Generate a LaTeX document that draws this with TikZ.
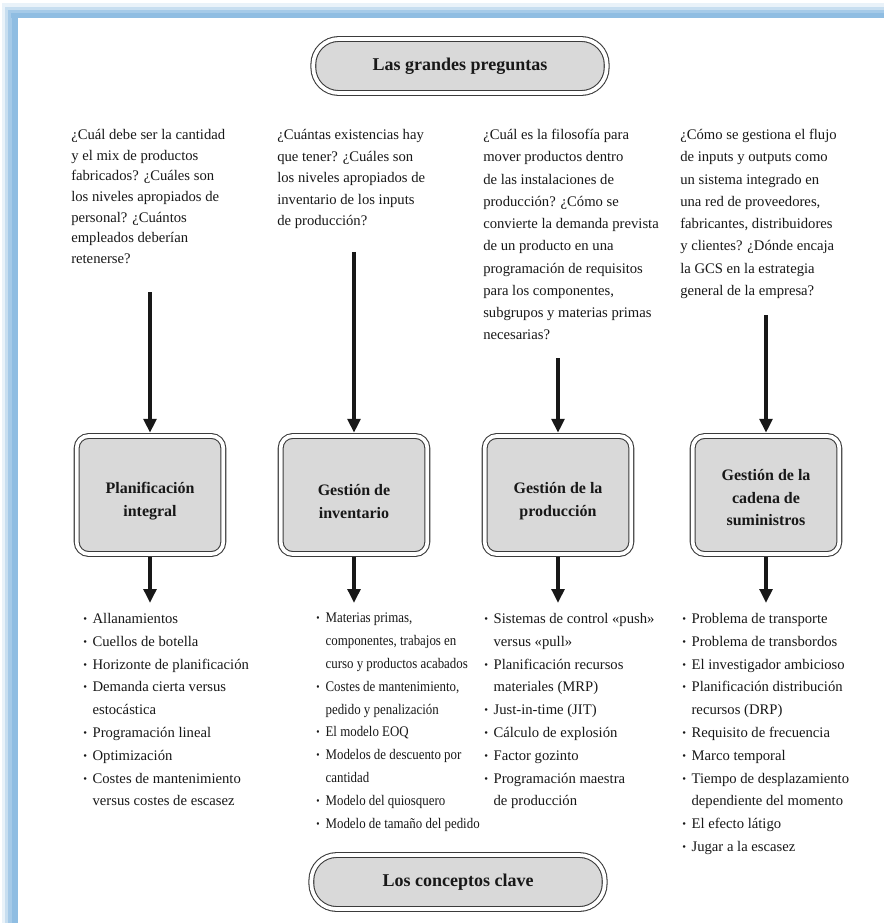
\documentclass[tikz,border=0pt]{standalone}
\usepackage{fontspec}
\setmainfont{Liberation Serif}
\newfontfamily\narrowserif[FakeStretch=0.88]{Liberation Serif}
\usetikzlibrary{arrows.meta}

\definecolor{frameblue}{RGB}{143,189,226}
\definecolor{ink}{RGB}{24,24,24}
\definecolor{panelgray}{RGB}{217,217,217}

% bullet marker and continuation indent for the concept lists
\newcommand\bul{\makebox[7pt][l]{\raisebox{0.15ex}{\footnotesize\textbullet}}}
\newcommand\cnt{\hspace*{7pt}}

\tikzset{
  qtext/.style={anchor=north west, inner sep=0pt, align=left, text=ink,
    font=\fontsize{11}{#1}\selectfont},
  qtext/.default=16.7pt,
  bullist/.style={anchor=north west, inner sep=0pt, align=left, text=ink,
    font=\fontsize{11}{17.1}\selectfont},
  topicbox/.style={draw=ink!85, double=white, double distance=2.8pt, line width=0.8pt,
    fill=panelgray, rounded corners=9pt, minimum width=110pt, minimum height=88.5pt,
    align=center, text=ink, inner sep=2pt, font=\fontsize{12}{17}\selectfont\bfseries},
  pill/.style={draw=ink!85, double=white, double distance=2.8pt, line width=0.8pt,
    fill=panelgray, rounded corners=19pt, minimum width=220pt, minimum height=40.5pt,
    text=ink, inner sep=2pt, font=\fontsize{13.5}{16}\selectfont\bfseries},
  bigarrow/.style={draw=ink, line width=2.6pt, -{Triangle[width=9.5pt,length=10.5pt]}}
}

\begin{document}
\begin{tikzpicture}[x=0.75pt,y=-0.75pt]
\useasboundingbox (0,0) rectangle (884,923);
\fill[white] (0,0) rectangle (884,923);

% blue frame along the top and left edges
\fill[frameblue!20] (2,3) rectangle (884,18);
\fill[frameblue!20] (2,3) rectangle (18,923);
\fill[frameblue!50] (5,7) rectangle (884,18);
\fill[frameblue!50] (5,7) rectangle (18,923);
\fill[frameblue!80] (8,10) rectangle (884,18);
\fill[frameblue!80] (8,10) rectangle (18,923);
\fill[frameblue] (11,13) rectangle (884,18);
\fill[frameblue] (12,13) rectangle (18,923);

% title pills
\node[pill] (top) at (460,66) {Las grandes preguntas};
\node[pill] (bottom) at (458,882) {Los conceptos clave};

% questions
\node[qtext=15.5pt] (q1) at (71,129) {¿Cuál debe ser la cantidad\\y el mix de productos\\fabricados? ¿Cuáles son\\los niveles apropiados de\\personal? ¿Cuántos\\empleados deberían\\retenerse?};
\node[qtext=16.2pt] (q2) at (277,129) {¿Cuántas existencias hay\\que tener? ¿Cuáles son\\los niveles apropiados de\\inventario de los inputs\\de producción?};
\node[qtext] (q3) at (483,129) {¿Cuál es la filosofía para\\mover productos dentro\\de las instalaciones de\\producción? ¿Cómo se\\convierte la demanda prevista\\de un producto en una\\programación de requisitos\\para los componentes,\\subgrupos y materias primas\\necesarias?};
\node[qtext] (q4) at (680,129) {¿Cómo se gestiona el flujo\\de inputs y outputs como\\un sistema integrado en\\una red de proveedores,\\fabricantes, distribuidores\\y clientes? ¿Dónde encaja\\la GCS en la estrategia\\general de la empresa?};

% topic boxes (labels sit a little below the centre)
\node[topicbox, text height=35pt] (b1) at (150,495) {Planificación\\integral};
\node[topicbox, text height=35pt] (b2) at (354,495) {Gestión de\\inventario};
\node[topicbox, text height=35pt] (b3) at (558,495) {Gestión de la\\producción};
\node[topicbox, text height=46.5pt] (b4) at (766,495) {Gestión de la\\cadena de\\suministros};

% arrow start and end points
\coordinate (s1) at (150,292);
\coordinate (s2) at (354,252);
\coordinate (s3) at (558,358);
\coordinate (s4) at (766,315);
\coordinate (e1) at (150,603);
\coordinate (e2) at (354,603);
\coordinate (e3) at (558,603);
\coordinate (e4) at (766,603);

\foreach \i in {1,2,3,4}{
  \draw[bigarrow, shorten >=2pt] (s\i) -- (b\i.north);
  \draw[bigarrow, shorten <=2pt] (b\i.south) -- (e\i);
}

% key concepts
\node[bullist] (l1) at (83,613) {\bul Allanamientos\\\bul Cuellos de botella\\\bul Horizonte de planificación\\\bul Demanda cierta versus\\\cnt estocástica\\\bul Programación lineal\\\bul Optimización\\\bul Costes de mantenimiento\\\cnt versus costes de escasez};
\node[bullist, font=\fontsize{11}{17.1}\selectfont\narrowserif] (l2) at (316,613) {\bul Materias primas,\\\cnt componentes, trabajos en\\\cnt curso y productos acabados\\\bul Costes de mantenimiento,\\\cnt pedido y penalización\\\bul El modelo EOQ\\\bul Modelos de descuento por\\\cnt cantidad\\\bul Modelo del quiosquero\\\bul Modelo de tamaño del pedido};
\node[bullist] (l3) at (484,613) {\bul Sistemas de control «push»\\\cnt versus «pull»\\\bul Planificación recursos\\\cnt materiales (MRP)\\\bul Just-in-time (JIT)\\\bul Cálculo de explosión\\\bul Factor gozinto\\\bul Programación maestra\\\cnt de producción};
\node[bullist] (l4) at (682,613) {\bul Problema de transporte\\\bul Problema de transbordos\\\bul El investigador ambicioso\\\bul Planificación distribución\\\cnt recursos (DRP)\\\bul Requisito de frecuencia\\\bul Marco temporal\\\bul Tiempo de desplazamiento\\\cnt dependiente del momento\\\bul El efecto látigo\\\bul Jugar a la escasez};
\end{tikzpicture}
\end{document}
